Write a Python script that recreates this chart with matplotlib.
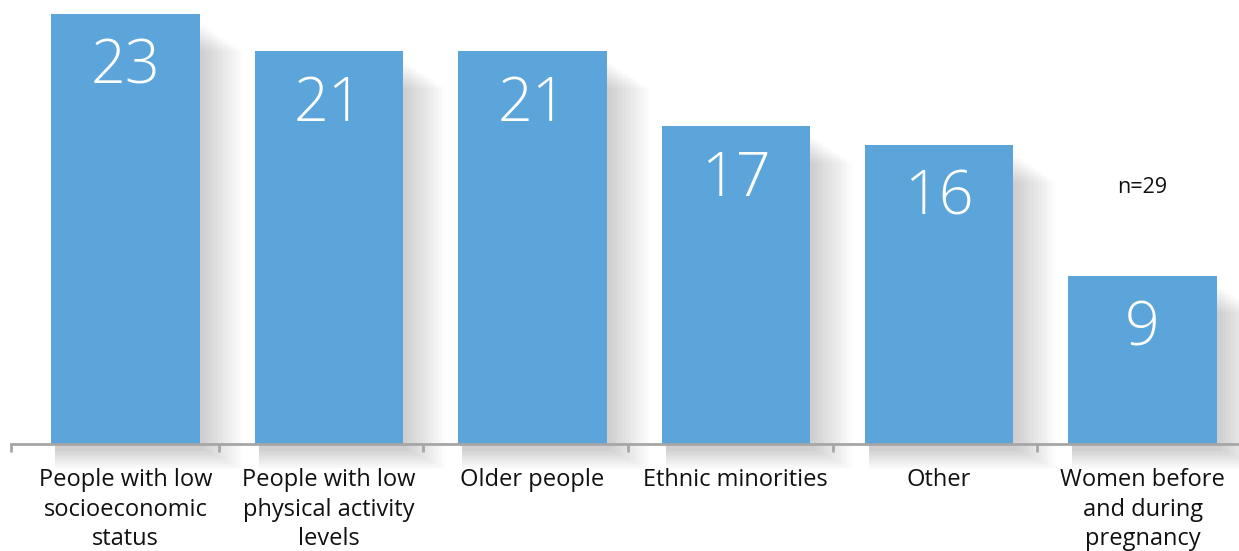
import matplotlib
matplotlib.use("Agg")
import matplotlib.pyplot as plt
from matplotlib.patches import Rectangle
import numpy as np

categories = ["People with low\nsocioeconomic\nstatus", "People with low\nphysical activity\nlevels",
              "Older people", "Ethnic minorities", "Other", "Women before\nand during\npregnancy"]
values = [23, 21, 21, 17, 16, 9]
note = "n=29"

plt.rcParams['font.family'] = ['Open Sans', 'DejaVu Sans']

W, H = 1239, 551
fig = plt.figure(figsize=(W/100, H/100), dpi=100)
ax = fig.add_axes([11/W, (H-444)/H, (W-11)/W, 444/H])

x = np.arange(len(values))
bar_w = 0.73
color = "#5BA5DA"

# soft shadow (right side and below)
n_layers = 16
for xi, v in zip(x, values):
    for k in range(n_layers):
        gx = 0.009 * k
        gy = 0.07 * k
        ax.add_patch(Rectangle((xi - bar_w/2 + 0.02, -gy - 0.3),
                               bar_w + gx * 1.4, v - 0.6 - gy * 0.3 + 0.3,
                               facecolor="#000000", alpha=0.010, edgecolor="none",
                               zorder=1, clip_on=False))

ax.bar(x, values, width=bar_w, color=color, zorder=3)

for xi, v in zip(x, values):
    ax.text(xi, v - 2.9, str(v), ha="center", va="center", color="white",
            fontsize=44, fontweight="light", zorder=4)

ax.text(5, 13.7, note, ha="center", va="center", fontsize=15.5, color="#111111", zorder=4)

ax.set_xlim(-0.563, 5.474)
ax.set_ylim(0, 23.74)
ax.set_yticks([])
for s in ["top", "right", "left"]:
    ax.spines[s].set_visible(False)
ax.spines["bottom"].set_color("#A6A6A6")
ax.spines["bottom"].set_linewidth(2)
ax.spines["bottom"].set_zorder(5)

tick_pos = [-0.563, 0.460, 1.463, 2.470, 3.478, 4.481]
ax.set_xticks(tick_pos)
ax.set_xticklabels([])
ax.tick_params(axis="x", length=6, width=2, color="#A6A6A6", direction="out")

for xi, c in zip(x, categories):
    ax.text(xi, -1.3, c, ha="center", va="top", fontsize=17, color="#111111",
            linespacing=1.3, clip_on=False)

fig.savefig("out.png", dpi=100)
